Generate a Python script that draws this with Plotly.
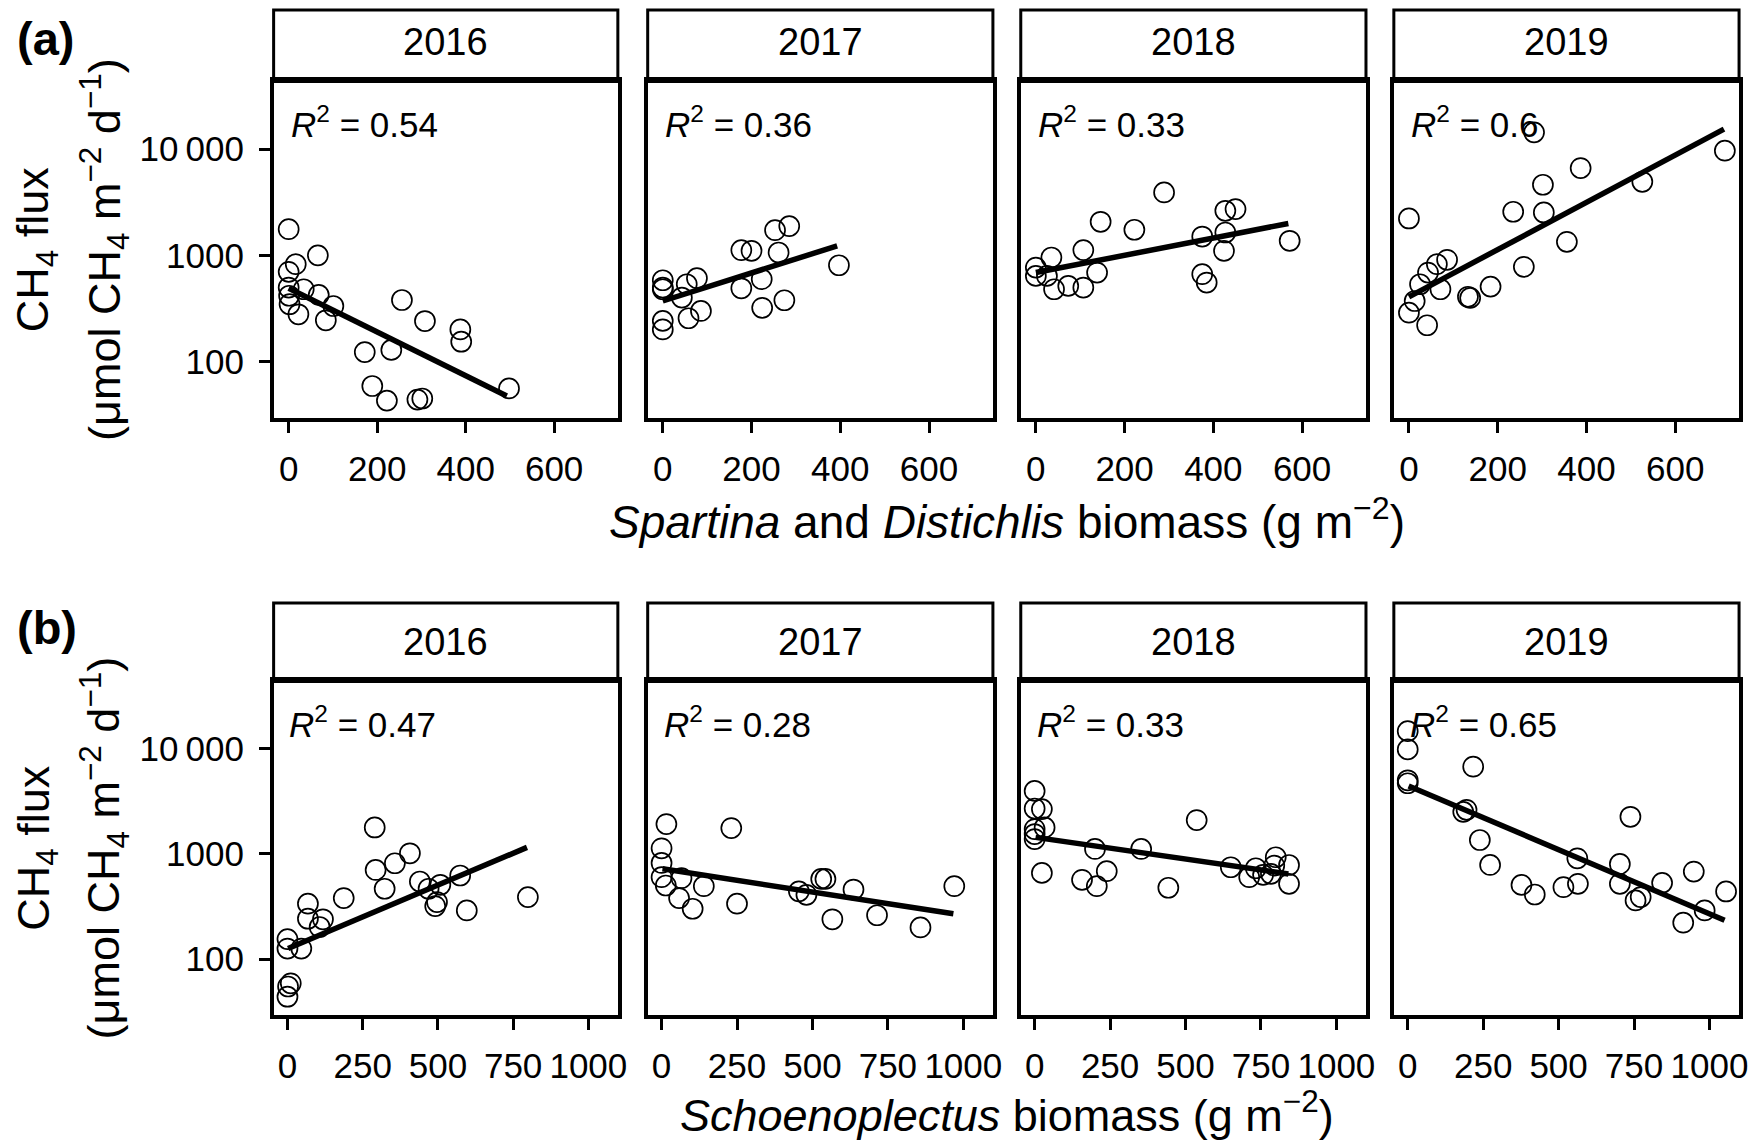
import plotly.graph_objects as go

# ---------------- data ----------------
years = ["2016", "2017", "2018", "2019"]
r2_a = ["0.54", "0.36", "0.33", "0.6"]
r2_b = ["0.47", "0.28", "0.33", "0.65"]

# (a) Spartina and Distichlis biomass vs CH4 flux
a2016_x = [0, 66, 16, 0, 0, 34, 68, 101, 2, 22, 84, 256, 308, 388, 390, 172, 232, 189, 222, 291, 302, 498, 1]
a2016_y = [1763, 1000, 826, 700, 498, 480, 425, 334, 347, 279, 245, 380, 241, 201, 154, 123, 129, 59, 43, 44, 45, 56, 417]
a2017_x = [0, 0, 0, 43, 77, 58, 86, 0, 0, 177, 200, 253, 285, 261, 223, 177, 224, 274, 397, 54]
a2017_y = [583, 498, 480, 401, 610, 256, 300, 242, 201, 1119, 1104, 1725, 1884, 1064, 597, 490, 321, 378, 807, 535]
a2018_x = [0, 0, 35, 25, 41, 73, 107, 107, 138, 146, 222, 289, 375, 375, 385, 427, 427, 424, 450, 572]
a2018_y = [767, 641, 954, 641, 480, 516, 498, 1120, 689, 2069, 1740, 3908, 1503, 665, 555, 2625, 1640, 1103, 2722, 1371]
a2019_x = [0, 282, 302, 235, 304, 356, 259, 86, 63, 43, 25, 71, 13, 0, 41, 133, 138, 184, 387, 526, 712]
a2019_y = [2223, 14350, 4614, 2572, 2531, 1340, 780, 908, 826, 689, 535, 480, 372, 289, 220, 408, 398, 508, 6620, 4920, 9650]

# fitted regression line end points
a2016_fit_x = [0, 493]
a2016_fit_y = [490, 47.5]
a2017_fit_x = [0, 393]
a2017_fit_y = [372, 1228]
a2018_fit_x = [0, 569]
a2018_fit_y = [689, 1995]
a2019_fit_x = [0, 710]
a2019_fit_y = [407, 15400]

# (b) Schoenoplectus biomass vs CH4 flux
b2016_x = [0, 0, 46, 11, 2, 0, 68, 68, 118, 107, 187, 290, 293, 357, 407, 323, 440, 469, 508, 497, 491, 574, 596, 799]
b2016_y = [155, 126, 126, 59, 55, 44, 336, 242, 239, 202, 380, 1778, 703, 813, 1011, 466, 546, 466, 508, 348, 319, 622, 290, 388]
b2017_x = [16, 0, 0, 0, 14, 66, 58, 103, 140, 231, 250, 455, 480, 529, 543, 636, 566, 714, 858, 970]
b2017_y = [1915, 1127, 819, 600, 500, 587, 380, 301, 493, 1754, 336, 440, 408, 578, 578, 458, 239, 261, 200, 493]
b2018_x = [0, 0, 24, 33, 0, 0, 0, 24, 200, 157, 206, 239, 353, 537, 443, 650, 711, 733, 757, 799, 794, 843, 843, 783]
b2018_y = [3954, 2692, 2655, 1780, 1717, 1540, 1380, 659, 1112, 566, 493, 684, 1112, 2090, 476, 745, 600, 729, 631, 927, 773, 783, 519, 645]
b2019_x = [0, 0, 0, 0, 217, 184, 195, 239, 273, 377, 421, 516, 564, 562, 703, 703, 738, 755, 772, 843, 948, 984, 913, 1055]
b2019_y = [14590, 9790, 4985, 4670, 6710, 2500, 2614, 1352, 784, 507, 411, 482, 519, 906, 801, 519, 2245, 361, 388, 530, 678, 290, 222, 439]

b2016_fit_x = [2, 796]
b2016_fit_y = [126, 1150]
b2017_fit_x = [3, 967]
b2017_fit_y = [720, 270]
b2018_fit_x = [3, 841]
b2018_fit_y = [1432, 644]
b2019_fit_x = [3, 1050]
b2019_fit_y = [4406, 234]

# axis ticks
y_tickvals = [100, 1000, 10000]
y_ticktext = ["100", "1000", "10\u2009000"]
xa_tickvals = [0, 200, 400, 600]
xa_ticktext = ["0", "200", "400", "600"]
xb_tickvals = [0, 250, 500, 750, 1000]
xb_ticktext = ["0", "250", "500", "750", "1000"]

# ---------------- layout geometry ----------------
OFF = 8                      # default page body margin
W, H = 1759 - OFF, 1143 - OFF
FONT = "Liberation Sans, Arial, Helvetica, sans-serif"
col_px = [(275, 621), (651, 998), (1026, 1373), (1401, 1748)]
row_plot_px = [(81, 418), (681, 1015)]
row_strip_px = [(10, 81), (603, 681)]

def fx(px):
    return (px - OFF) / W

def fy(py):
    return 1 - (py - OFF) / H

panels = [
    (a2016_x, a2016_y, a2016_fit_x, a2016_fit_y),
    (a2017_x, a2017_y, a2017_fit_x, a2017_fit_y),
    (a2018_x, a2018_y, a2018_fit_x, a2018_fit_y),
    (a2019_x, a2019_y, a2019_fit_x, a2019_fit_y),
    (b2016_x, b2016_y, b2016_fit_x, b2016_fit_y),
    (b2017_x, b2017_y, b2017_fit_x, b2017_fit_y),
    (b2018_x, b2018_y, b2018_fit_x, b2018_fit_y),
    (b2019_x, b2019_y, b2019_fit_x, b2019_fit_y),
]
r2_all = r2_a + r2_b

fig = go.Figure()
layout = dict(
    width=W, height=H,
    margin=dict(l=0, r=0, t=0, b=0),
    paper_bgcolor="white", plot_bgcolor="white",
    showlegend=False,
    font=dict(family=FONT, color="black"),
)
annotations = []
shapes = []

for i, (px_, py_, fxv, fyv) in enumerate(panels):
    r, c = divmod(i, 4)
    k = i + 1
    xs = "" if k == 1 else str(k)
    x0, x1 = col_px[c]
    p0, p1 = row_plot_px[r]
    s0, s1 = row_strip_px[r]

    fig.add_trace(go.Scatter(
        x=px_, y=py_, mode="markers", xaxis="x" + xs, yaxis="y" + xs,
        marker=dict(symbol="circle-open", size=20, color="black", line=dict(width=1.7)),
        hoverinfo="skip",
    ))
    fig.add_trace(go.Scatter(
        x=fxv, y=fyv, mode="lines", xaxis="x" + xs, yaxis="y" + xs,
        line=dict(color="black", width=5.5), hoverinfo="skip",
    ))

    if r == 0:
        xr, tv, tt = [-34, 744], xa_tickvals, xa_ticktext
    else:
        xr, tv, tt = [-46, 1098], xb_tickvals, xb_ticktext

    layout["xaxis" + xs] = dict(
        domain=[fx(x0), fx(x1)], range=xr, anchor="y" + xs,
        showline=True, linecolor="black", linewidth=3.5, mirror=True,
        ticks="outside", ticklen=11, tickwidth=3, tickcolor="black",
        tickmode="array", tickvals=tv, ticktext=tt,
        tickfont=dict(size=35, family=FONT, color="black"),
        ticklabelstandoff=6,
        showgrid=False, zeroline=False, fixedrange=True,
    )
    layout["yaxis" + xs] = dict(
        domain=[fy(p1), fy(p0)], type="log", range=[1.47, 4.64], anchor="x" + xs,
        showline=True, linecolor="black", linewidth=3.5, mirror=True,
        ticks="outside" if c == 0 else "", ticklen=11, tickwidth=3, tickcolor="black",
        showticklabels=(c == 0),
        tickmode="array", tickvals=y_tickvals, ticktext=y_ticktext,
        tickfont=dict(size=35, family=FONT, color="black"),
        ticklabelstandoff=8,
        showgrid=False, zeroline=False, fixedrange=True,
    )

    # strip
    shapes.append(dict(
        type="rect", xref="paper", yref="paper",
        x0=fx(x0), x1=fx(x1), y0=fy(s1), y1=fy(s0),
        line=dict(color="black", width=3), fillcolor="white", layer="above",
    ))
    shapes.append(dict(
        type="line", xref="paper", yref="paper",
        x0=fx(x0 - 1), x1=fx(x1 + 1), y0=fy(s1 - 1), y1=fy(s1 - 1),
        line=dict(color="black", width=6), layer="above",
    ))
    annotations.append(dict(
        text=years[c], xref="paper", yref="paper",
        x=fx((x0 + x1) / 2), y=fy((s0 + s1) / 2 - (3 if r == 0 else 0)),
        xanchor="center", yanchor="middle", showarrow=False,
        font=dict(size=38, family=FONT, color="black"),
    ))
    # R^2 label
    annotations.append(dict(
        text="<i>R</i><sup>2</sup> = " + r2_all[i],
        xref="x" + xs, yref="y" + xs, x=0, y=4.25,
        xanchor="left", yanchor="middle", showarrow=False,
        font=dict(size=35, family=FONT, color="black"),
    ))

# axis titles
annotations += [
    dict(text="<i>Spartina</i> and <i>Distichlis</i> biomass (g m<sup>\u22122</sup>)",
         xref="paper", yref="paper", x=fx(1012), y=fy(519),
         xanchor="center", yanchor="middle", showarrow=False,
         font=dict(size=46, family=FONT, color="black")),
    dict(text="<i>Schoenoplectus</i> biomass (g m<sup>\u22122</sup>)",
         xref="paper", yref="paper", x=fx(1012), y=fy(1112),
         xanchor="center", yanchor="middle", showarrow=False,
         font=dict(size=45, family=FONT, color="black")),
]
for r in range(2):
    p0, p1 = row_plot_px[r]
    yc = fy((p0 + p1) / 2)
    annotations.append(dict(
        text="CH<sub>4</sub> flux", xref="paper", yref="paper",
        x=fx(36), y=yc, xanchor="center", yanchor="middle", textangle=-90,
        showarrow=False, font=dict(size=45, family=FONT, color="black")))
    annotations.append(dict(
        text="(\u03bcmol CH<sub>4</sub> m<sup>\u22122</sup> d<sup>\u22121</sup>)",
        xref="paper", yref="paper",
        x=fx(104), y=yc, xanchor="center", yanchor="middle", textangle=-90,
        showarrow=False, font=dict(size=45, family=FONT, color="black")))

annotations.append(dict(text="<b>(a)</b>", xref="paper", yref="paper",
                        x=fx(46), y=fy(39), xanchor="center", yanchor="middle",
                        showarrow=False, font=dict(size=47, family=FONT, color="black")))
annotations.append(dict(text="<b>(b)</b>", xref="paper", yref="paper",
                        x=fx(47), y=fy(627), xanchor="center", yanchor="middle",
                        showarrow=False, font=dict(size=47, family=FONT, color="black")))

layout["annotations"] = annotations
layout["shapes"] = shapes
fig.update_layout(**layout)

fig.write_html("out.html")
